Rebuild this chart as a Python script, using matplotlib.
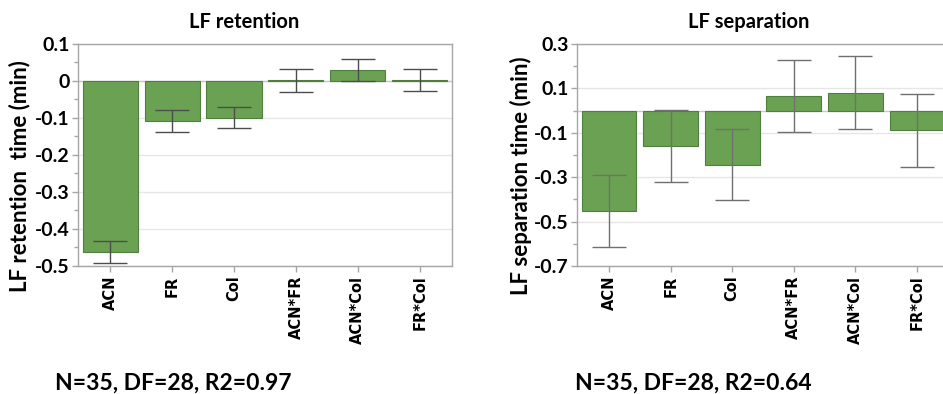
import matplotlib
matplotlib.use("Agg")
import matplotlib.pyplot as plt
from matplotlib.ticker import MultipleLocator, FixedLocator

categories = ["ACN", "FR", "Col", "ACN*FR", "ACN*Col", "FR*Col"]

ret_values = [-0.463, -0.108, -0.099, 0.002, 0.030, 0.002]
ret_err = [0.030, 0.030, 0.029, 0.031, 0.030, 0.030]

sep_values = [-0.453, -0.160, -0.243, 0.065, 0.081, -0.088]
sep_err = [0.163, 0.163, 0.158, 0.162, 0.163, 0.164]

ret_yticks = [0.1, 0, -0.1, -0.2, -0.3, -0.4, -0.5]
ret_ylabels = ["0.1", "0", "-0.1", "-0.2", "-0.3", "-0.4", "-0.5"]
sep_yticks = [0.3, 0.1, -0.1, -0.3, -0.5, -0.7]
sep_ylabels = ["0.3", "0.1", "-0.1", "-0.3", "-0.5", "-0.7"]

BAR = "#6aa152"
EDGE = "#4f7f3c"
SPINE = "#a6a6a6"
LABEL_FONT = ["Lato", "DejaVu Sans"]

fig = plt.figure(figsize=(9.43, 3.94), dpi=100)

def panel(rect, values, errs, ylim, yticks, ylabels, minor, ylabel, title, title_x,
          ylabel_x, stats, stats_x, ecolor):
    ax = fig.add_axes(rect)
    x = list(range(len(categories)))
    ax.bar(x, values, width=0.89, color=BAR, edgecolor=EDGE, linewidth=0.8, zorder=2)
    ax.errorbar(x, values, yerr=errs, fmt="none", ecolor=ecolor, elinewidth=1.0,
                capsize=12.5, capthick=1.0, zorder=3)
    ax.set_xlim(-0.52, 5.52)
    ax.set_ylim(*ylim)
    ax.yaxis.set_major_locator(FixedLocator(yticks))
    ax.set_yticklabels(ylabels, fontsize=14, fontweight="bold", family=LABEL_FONT)
    ax.yaxis.set_minor_locator(MultipleLocator(minor))
    ax.set_xticks(x)
    ax.set_xticklabels(categories, rotation=90, fontsize=10.5, fontweight="bold",
                       family="DejaVu Sans")
    for y in yticks:
        ax.axhline(y, color="#e6e6e6", lw=1.0, zorder=0)
    ax.axhline(0, color="#c8c8c8", lw=1.0, zorder=1)
    for s in ax.spines.values():
        s.set_color(SPINE)
        s.set_linewidth(1.0)
    ax.tick_params(axis="both", which="major", color=SPINE, length=4, width=1, pad=2)
    ax.tick_params(axis="y", which="minor", color=SPINE, length=3, width=1)
    ax.tick_params(axis="x", pad=3)
    fig.text(ylabel_x, (394 - 176) / 394, ylabel, rotation=90, ha="center",
             va="center", fontsize=16, fontweight="bold", family=LABEL_FONT)
    fig.text(title_x, 0.945, title, ha="center", va="center", fontsize=14.5,
             fontweight="bold", family=LABEL_FONT)
    fig.text(stats_x, 0.028, stats, ha="left", va="center", fontsize=16.5,
             fontweight="bold", family=LABEL_FONT)
    return ax

panel([0.0827, 0.3249, 0.3966, 0.5635], ret_values, ret_err, (-0.5, 0.1),
      ret_yticks, ret_ylabels, 0.05, "LF retention  time (min)", "LF retention",
      244 / 943, 20 / 943, "N=35, DF=28, R2=0.97", 55 / 943, "#4d4d4d")

panel([0.6119, 0.3249, 0.3945, 0.5635], sep_values, sep_err, (-0.7, 0.3),
      sep_yticks, sep_ylabels, 0.1, "LF separation time (min)", "LF separation",
      749 / 943, 521 / 943, "N=35, DF=28, R2=0.64", 575 / 943, "#707070")

fig.savefig("out.png", dpi=100)
